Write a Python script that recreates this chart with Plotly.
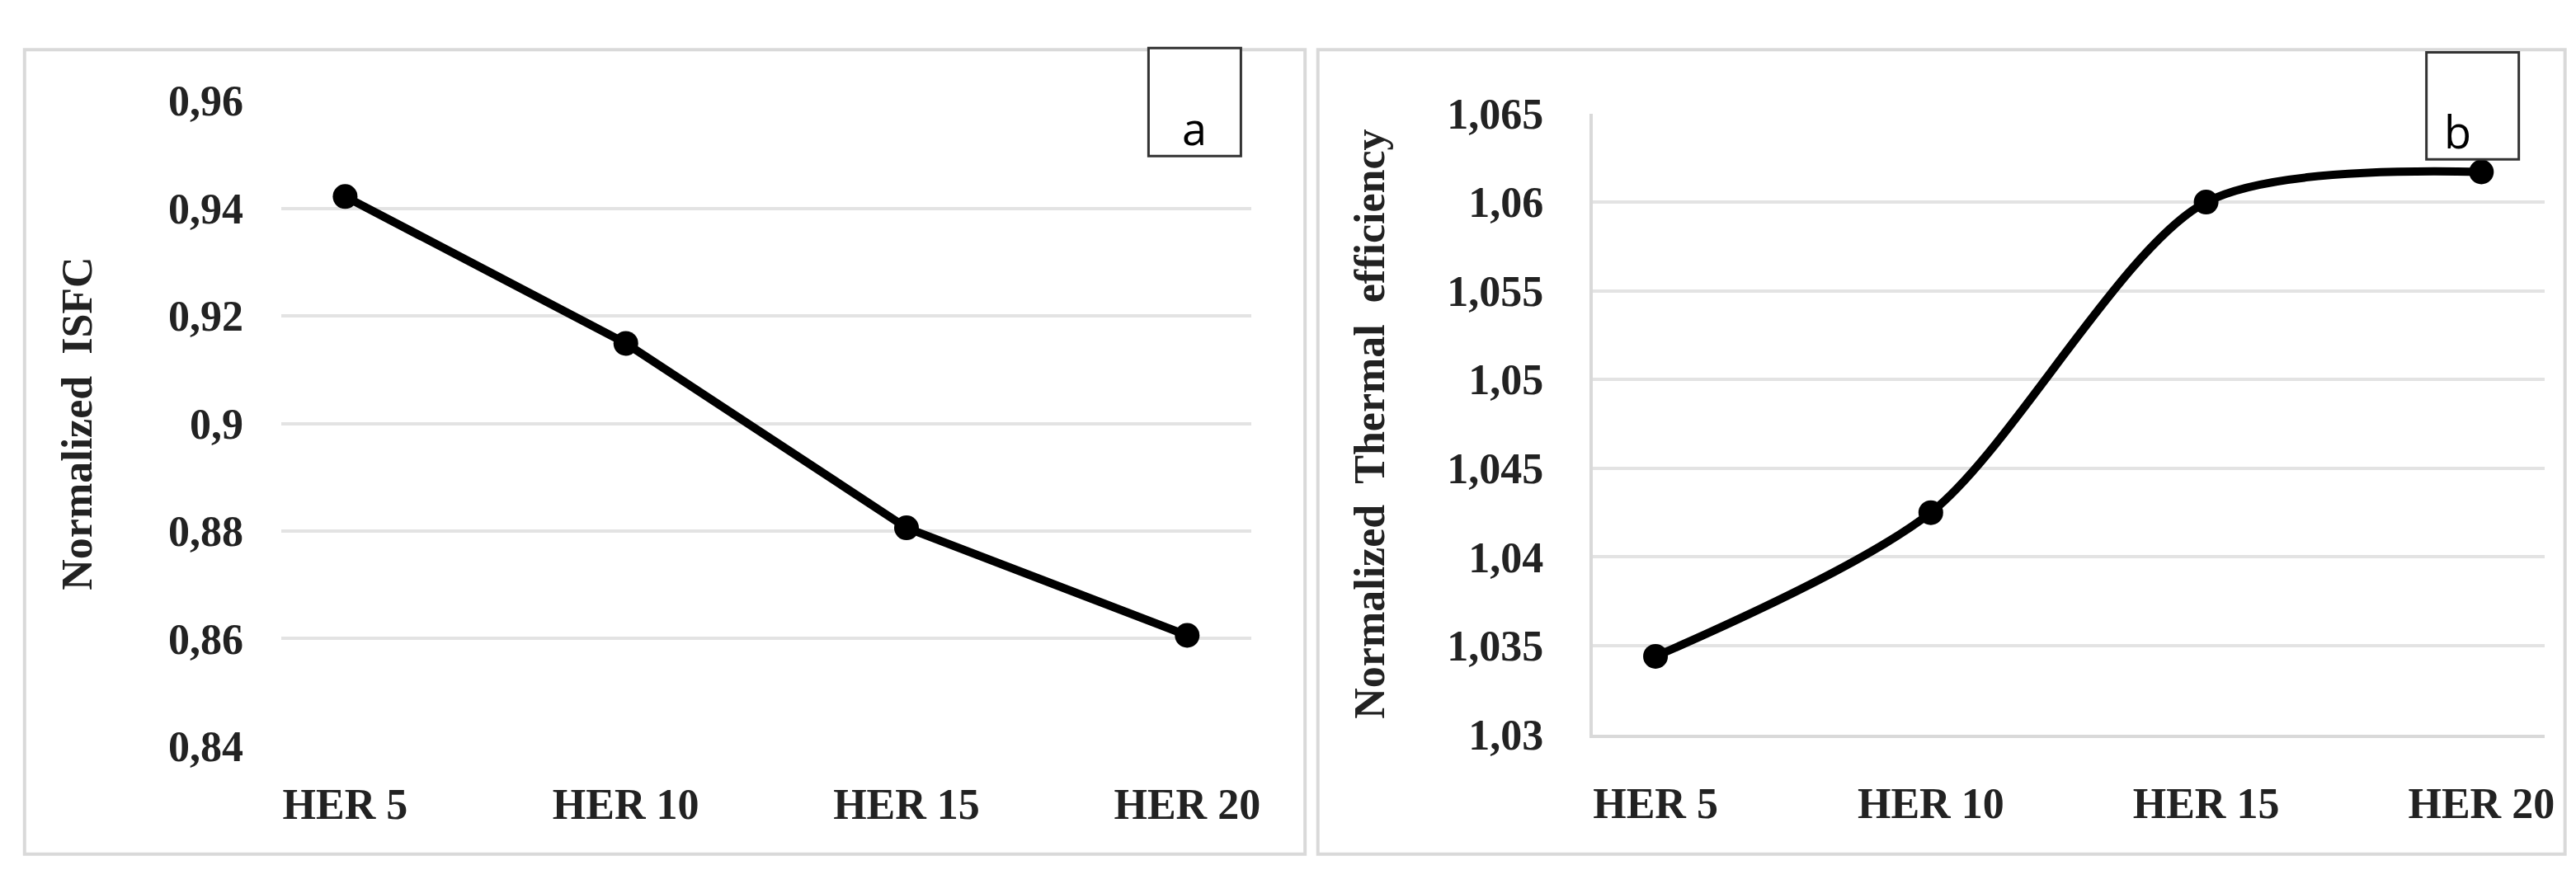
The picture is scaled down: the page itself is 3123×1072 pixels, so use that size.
import plotly.graph_objects as go

categories = ["HER 5", "HER 10", "HER 15", "HER 20"]
isfc = [0.9422, 0.9149, 0.8806, 0.8606]
thermal_eff = [1.0344, 1.0425, 1.0600, 1.0617]

isfc_ticks = [0.84, 0.86, 0.88, 0.90, 0.92, 0.94, 0.96]
isfc_ticktext = ["0,84", "0,86", "0,88", "0,9", "0,92", "0,94", "0,96"]
eff_ticks = [1.03, 1.035, 1.04, 1.045, 1.05, 1.055, 1.06, 1.065]
eff_ticktext = ["1,03", "1,035", "1,04", "1,045", "1,05", "1,055", "1,06", "1,065"]

tfont = dict(family="Liberation Serif", size=52, color="#222", weight="bold")
grid = "#e3e3e3"

fig = go.Figure()
fig.add_trace(go.Scatter(x=categories, y=isfc, mode="lines+markers",
                         line=dict(color="black", width=10),
                         marker=dict(color="black", size=30),
                         xaxis="x", yaxis="y", showlegend=False))
fig.add_trace(go.Scatter(x=categories, y=thermal_eff, mode="lines+markers",
                         line=dict(color="black", width=10, shape="spline", smoothing=0.8),
                         marker=dict(color="black", size=30),
                         xaxis="x2", yaxis="y2", showlegend=False))

fig.update_layout(
    width=3123, height=1072,
    margin=dict(l=0, r=0, t=0, b=0),
    paper_bgcolor="white", plot_bgcolor="white",
    font=dict(family="Liberation Serif", color="#222"),
    xaxis=dict(domain=[0.107, 0.485], anchor="y", showgrid=False, tickfont=tfont,
               ticks="", ticklabelstandoff=35, showline=False, zeroline=False),
    yaxis=dict(domain=[0.144, 0.915], anchor="x", range=[0.84, 0.96],
               tickvals=isfc_ticks, ticktext=isfc_ticktext, gridcolor=grid, gridwidth=4,
               tickfont=tfont, ticklabelstandoff=45, zeroline=False,
               title=dict(text="Normalized  ISFC", standoff=75, font=tfont)),
    xaxis2=dict(domain=[0.618, 0.989], anchor="y2", showgrid=False, tickfont=tfont,
                ticks="", ticklabelstandoff=35, showline=True, linecolor="#d9d9d9", linewidth=4,
                zeroline=False),
    yaxis2=dict(domain=[0.158, 0.90], anchor="x2", range=[1.03, 1.065],
                tickvals=eff_ticks, ticktext=eff_ticktext, gridcolor=grid, gridwidth=4,
                showline=True, linecolor="#d9d9d9", linewidth=4,
                tickfont=tfont, ticklabelstandoff=45, zeroline=False,
                title=dict(text="Normalized  Thermal  efficiency", standoff=60, font=tfont)),
)

# panel frames
for x0, x1 in [(0.007, 0.506), (0.511, 0.997)]:
    fig.add_shape(type="rect", xref="paper", yref="paper", x0=x0, x1=x1, y0=0.015, y1=0.976,
                  line=dict(color="#d9d9d9", width=4), layer="below")

# panel labels
for lab, x0, x1, y0, y1 in [("a", 0.445, 0.481, 0.849, 0.978), ("b", 0.943, 0.979, 0.845, 0.973)]:
    fig.add_shape(type="rect", xref="paper", yref="paper", x0=x0, x1=x1, y0=y0, y1=y1,
                  line=dict(color="#333", width=3), fillcolor="white")
    fig.add_annotation(text=lab, xref="paper", yref="paper", x=(x0 + x1) / 2, y=(y0 + y1) / 2,
                       yshift=8, showarrow=False,
                       font=dict(family="Open Sans", size=54, color="black"))

fig.write_html("out.html")
